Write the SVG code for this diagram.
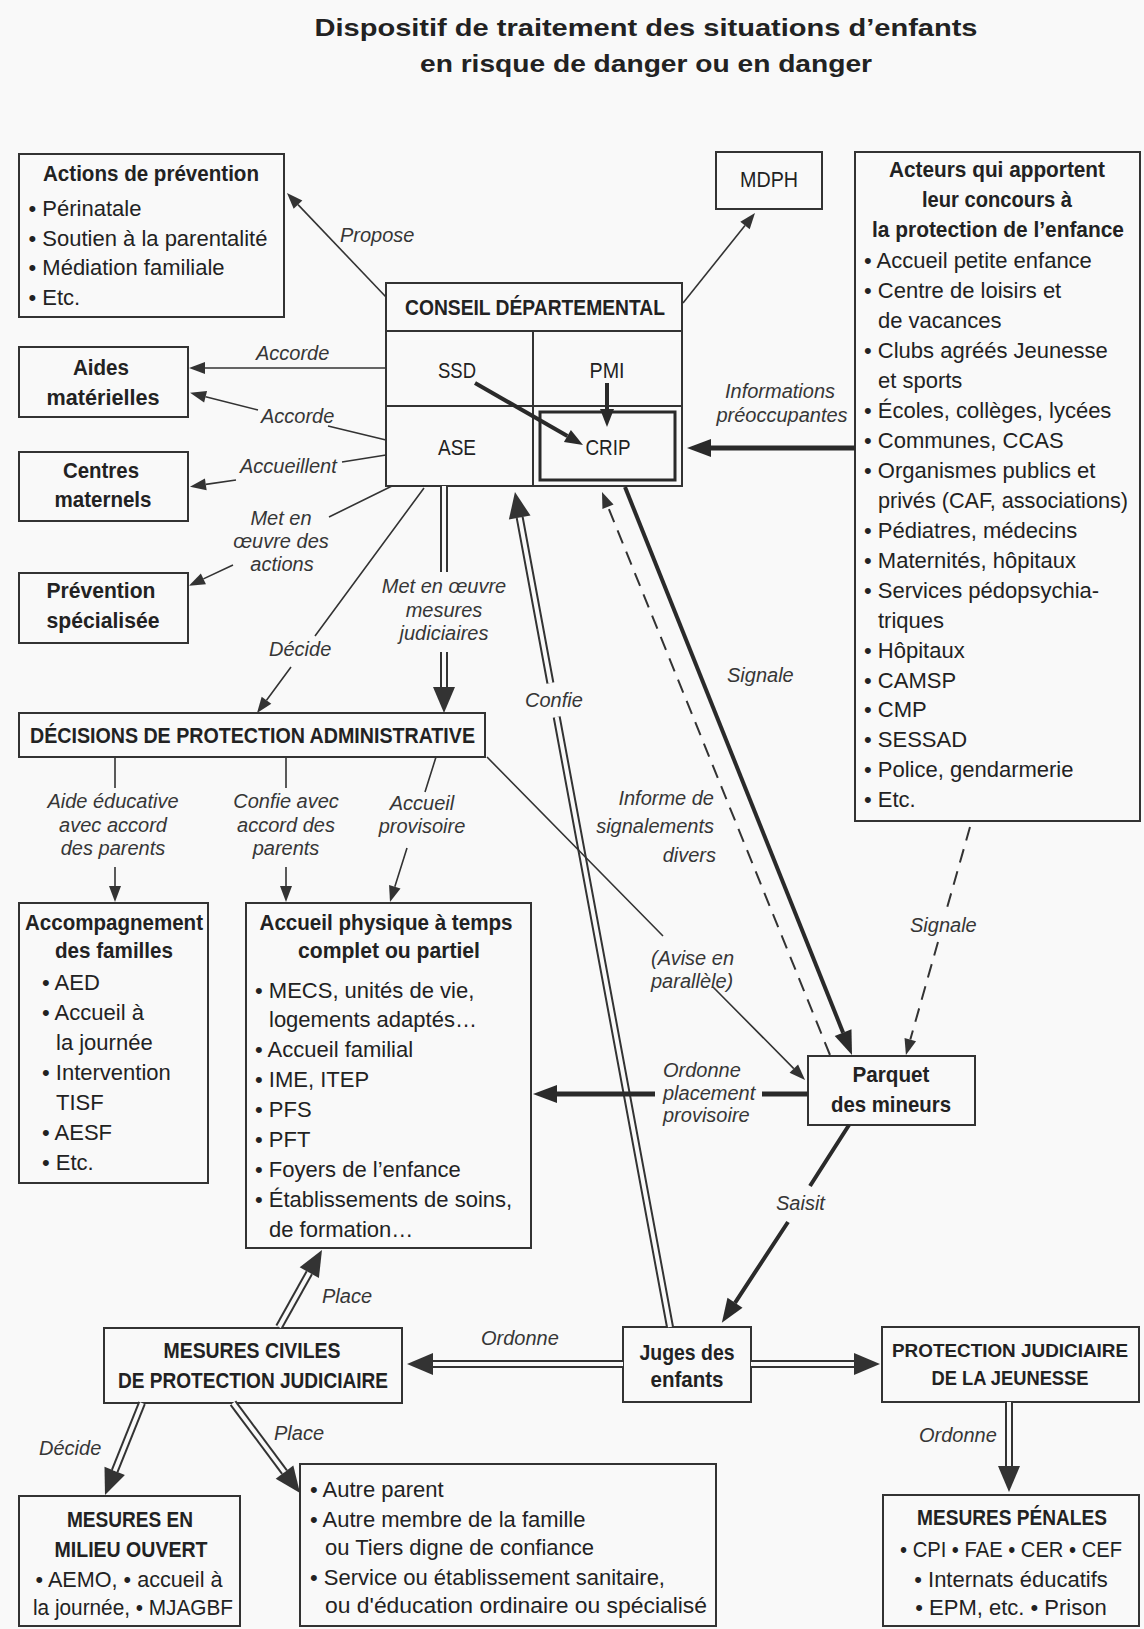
<svg xmlns="http://www.w3.org/2000/svg" width="1144" height="1629" viewBox="0 0 1144 1629">
<defs>
<style>
text{font-family:"Liberation Sans",Arial,sans-serif;fill:#222}
.r{font-size:22px}
.b{font-size:22px;font-weight:bold}
.h{font-size:24px;font-weight:bold}
.i{font-size:20px;font-style:italic;fill:#363636}
.m{text-anchor:middle}
.e{text-anchor:end}
.box{fill:#f9f9f9;stroke:#333;stroke-width:2}
.ln{fill:none;stroke:#333;stroke-width:1.6}
.dsh{fill:none;stroke:#333;stroke-width:2;stroke-dasharray:14 9}
.bd{fill:none;stroke:#2a2a2a;stroke-width:4}
.bd5{fill:none;stroke:#2a2a2a;stroke-width:5}
.dbo{fill:none;stroke:#333;stroke-width:8}
.dbi{fill:none;stroke:#f9f9f9;stroke-width:4}
</style>
<marker id="mt" markerUnits="userSpaceOnUse" markerWidth="18" markerHeight="14" refX="0" refY="7" orient="auto" overflow="visible"><path d="M0,1 L16,7 L0,13 z" fill="#333"/></marker>
<marker id="mm" markerUnits="userSpaceOnUse" markerWidth="20" markerHeight="16" refX="0" refY="7" orient="auto" overflow="visible"><path d="M0,0 L18,7 L0,14 z" fill="#2a2a2a"/></marker>
<marker id="mb" markerUnits="userSpaceOnUse" markerWidth="26" markerHeight="20" refX="0" refY="9" orient="auto" overflow="visible"><path d="M0,0 L24,9 L0,18 z" fill="#2a2a2a"/></marker>
<marker id="md" markerUnits="userSpaceOnUse" markerWidth="28" markerHeight="24" refX="0" refY="11" orient="auto" overflow="visible"><path d="M0,0 L26,11 L0,22 z" fill="#333"/></marker>
</defs>
<rect x="0" y="0" width="1144" height="1629" fill="#f9f9f9"/>

<g id="title">
<text class="h m" x="646" y="36" textLength="663" lengthAdjust="spacingAndGlyphs">Dispositif de traitement des situations d’enfants</text>
<text class="h m" x="646" y="72" textLength="452" lengthAdjust="spacingAndGlyphs">en risque de danger ou en danger</text>
</g>

<g id="actions-prevention">
<rect class="box" x="19" y="154" width="265" height="163"/>
<text class="b m" x="151" y="181" textLength="216" lengthAdjust="spacingAndGlyphs">Actions de prévention</text>
<text class="r" x="28.5" y="216">• Périnatale</text>
<text class="r" x="28.5" y="246">• Soutien à la parentalité</text>
<text class="r" x="28.5" y="275">• Médiation familiale</text>
<text class="r" x="28.5" y="305">• Etc.</text>
</g>

<g id="aides-materielles">
<rect class="box" x="19" y="347" width="169" height="70"/>
<text class="b m" x="101" y="375" textLength="56" lengthAdjust="spacingAndGlyphs">Aides</text>
<text class="b m" x="103" y="405" textLength="113" lengthAdjust="spacingAndGlyphs">matérielles</text>
</g>

<g id="centres-maternels">
<rect class="box" x="19" y="452" width="169" height="69"/>
<text class="b m" x="101" y="478" textLength="76" lengthAdjust="spacingAndGlyphs">Centres</text>
<text class="b m" x="103" y="507" textLength="97" lengthAdjust="spacingAndGlyphs">maternels</text>
</g>

<g id="prevention-specialisee">
<rect class="box" x="19" y="573" width="169" height="70"/>
<text class="b m" x="101" y="598" textLength="109" lengthAdjust="spacingAndGlyphs">Prévention</text>
<text class="b m" x="103" y="628" textLength="113" lengthAdjust="spacingAndGlyphs">spécialisée</text>
</g>

<g id="conseil-departemental">
<rect class="box" x="386" y="283" width="296" height="203"/>
<line class="ln" x1="386" y1="331" x2="682" y2="331" style="stroke-width:2"/>
<line class="ln" x1="533" y1="331" x2="533" y2="486" style="stroke-width:2"/>
<line class="ln" x1="386" y1="406" x2="682" y2="406" style="stroke-width:2"/>
<text class="b m" x="535" y="315" textLength="260" lengthAdjust="spacingAndGlyphs">CONSEIL DÉPARTEMENTAL</text>
<text class="r m" x="457" y="378" textLength="38" lengthAdjust="spacingAndGlyphs">SSD</text>
<text class="r m" x="607" y="378" textLength="35" lengthAdjust="spacingAndGlyphs">PMI</text>
<text class="r m" x="457" y="455" textLength="38" lengthAdjust="spacingAndGlyphs">ASE</text>
</g>

<g id="crip">
<rect x="540" y="412" width="135" height="68" fill="none" stroke="#2a2a2a" stroke-width="3"/>
<text class="r m" x="608" y="455" textLength="45" lengthAdjust="spacingAndGlyphs">CRIP</text>
</g>

<g id="mdph">
<rect class="box" x="716" y="152" width="106" height="57"/>
<text class="r m" x="769" y="187" textLength="58" lengthAdjust="spacingAndGlyphs">MDPH</text>
</g>

<g id="acteurs">
<rect class="box" x="855" y="152" width="285" height="669"/>
<text class="b m" x="997" y="177" textLength="216" lengthAdjust="spacingAndGlyphs">Acteurs qui apportent</text>
<text class="b m" x="997" y="207" textLength="150" lengthAdjust="spacingAndGlyphs">leur concours à</text>
<text class="b m" x="998" y="237" textLength="252" lengthAdjust="spacingAndGlyphs">la protection de l’enfance</text>
<text class="r" x="864" y="268">• Accueil petite enfance</text>
<text class="r" x="864" y="298">• Centre de loisirs et</text>
<text class="r" x="878" y="328">de vacances</text>
<text class="r" x="864" y="358">• Clubs agréés Jeunesse</text>
<text class="r" x="878" y="388">et sports</text>
<text class="r" x="864" y="418">• Écoles, collèges, lycées</text>
<text class="r" x="864" y="448">• Communes, CCAS</text>
<text class="r" x="864" y="478">• Organismes publics et</text>
<text class="r" x="878" y="508" textLength="250" lengthAdjust="spacingAndGlyphs">privés (CAF, associations)</text>
<text class="r" x="864" y="538">• Pédiatres, médecins</text>
<text class="r" x="864" y="568">• Maternités, hôpitaux</text>
<text class="r" x="864" y="598">• Services pédopsychia-</text>
<text class="r" x="878" y="628">triques</text>
<text class="r" x="864" y="658">• Hôpitaux</text>
<text class="r" x="864" y="688">• CAMSP</text>
<text class="r" x="864" y="717">• CMP</text>
<text class="r" x="864" y="747">• SESSAD</text>
<text class="r" x="864" y="777">• Police, gendarmerie</text>
<text class="r" x="864" y="807">• Etc.</text>
</g>

<g id="decisions-administratives">
<rect class="box" x="19" y="713" width="466" height="44"/>
<text class="b" x="30" y="743" textLength="445" lengthAdjust="spacingAndGlyphs">DÉCISIONS DE PROTECTION ADMINISTRATIVE</text>
</g>

<g id="accompagnement">
<rect class="box" x="19" y="903" width="189" height="280"/>
<text class="b m" x="114" y="930" textLength="178" lengthAdjust="spacingAndGlyphs">Accompagnement</text>
<text class="b m" x="114" y="958" textLength="118" lengthAdjust="spacingAndGlyphs">des familles</text>
<text class="r" x="42" y="990">• AED</text>
<text class="r" x="42" y="1020">• Accueil à</text>
<text class="r" x="56" y="1050">la journée</text>
<text class="r" x="42" y="1080">• Intervention</text>
<text class="r" x="56" y="1110">TISF</text>
<text class="r" x="42" y="1140">• AESF</text>
<text class="r" x="42" y="1170">• Etc.</text>
</g>

<g id="accueil-physique">
<rect class="box" x="246" y="903" width="285" height="345"/>
<text class="b m" x="386" y="930" textLength="253" lengthAdjust="spacingAndGlyphs">Accueil physique à temps</text>
<text class="b m" x="389" y="958" textLength="182" lengthAdjust="spacingAndGlyphs">complet ou partiel</text>
<text class="r" x="255" y="998">• MECS, unités de vie,</text>
<text class="r" x="269" y="1027">logements adaptés…</text>
<text class="r" x="255" y="1057">• Accueil familial</text>
<text class="r" x="255" y="1087">• IME, ITEP</text>
<text class="r" x="255" y="1117">• PFS</text>
<text class="r" x="255" y="1147">• PFT</text>
<text class="r" x="255" y="1177">• Foyers de l’enfance</text>
<text class="r" x="255" y="1207">• Établissements de soins,</text>
<text class="r" x="269" y="1237">de formation…</text>
</g>

<g id="parquet">
<rect class="box" x="808" y="1056" width="167" height="69"/>
<text class="b m" x="891" y="1082" textLength="77" lengthAdjust="spacingAndGlyphs">Parquet</text>
<text class="b m" x="891" y="1112" textLength="120" lengthAdjust="spacingAndGlyphs">des mineurs</text>
</g>

<g id="mesures-civiles">
<rect class="box" x="104" y="1328" width="298" height="75"/>
<text class="b m" x="252" y="1358" textLength="177" lengthAdjust="spacingAndGlyphs">MESURES CIVILES</text>
<text class="b m" x="253" y="1388" textLength="270" lengthAdjust="spacingAndGlyphs">DE PROTECTION JUDICIAIRE</text>
</g>

<g id="juges">
<rect class="box" x="623" y="1327" width="128" height="75"/>
<text class="b m" x="687" y="1360" textLength="95" lengthAdjust="spacingAndGlyphs">Juges des</text>
<text class="b m" x="687" y="1387" textLength="73" lengthAdjust="spacingAndGlyphs">enfants</text>
</g>

<g id="pjj">
<rect class="box" x="882" y="1327" width="257" height="75"/>
<text class="b m" x="1010" y="1357" style="font-size:19px" textLength="236" lengthAdjust="spacingAndGlyphs">PROTECTION JUDICIAIRE</text>
<text class="b m" x="1010" y="1385" style="font-size:20px" textLength="157" lengthAdjust="spacingAndGlyphs">DE LA JEUNESSE</text>
</g>

<g id="milieu-ouvert">
<rect class="box" x="19" y="1496" width="221" height="130"/>
<text class="b m" x="130" y="1527" textLength="126" lengthAdjust="spacingAndGlyphs">MESURES EN</text>
<text class="b m" x="131" y="1557" textLength="153" lengthAdjust="spacingAndGlyphs">MILIEU OUVERT</text>
<text class="r m" x="129" y="1587" textLength="187" lengthAdjust="spacingAndGlyphs">• AEMO, • accueil à</text>
<text class="r m" x="133" y="1615" textLength="200" lengthAdjust="spacingAndGlyphs">la journée, • MJAGBF</text>
</g>

<g id="autres-placements">
<rect class="box" x="300" y="1464" width="416" height="162"/>
<text class="r" x="310" y="1497">• Autre parent</text>
<text class="r" x="310" y="1527">• Autre membre de la famille</text>
<text class="r" x="325" y="1555">ou Tiers digne de confiance</text>
<text class="r" x="310" y="1585">• Service ou établissement sanitaire,</text>
<text class="r" x="325" y="1613" textLength="382" lengthAdjust="spacingAndGlyphs">ou d'éducation ordinaire ou spécialisé</text>
</g>

<g id="mesures-penales">
<rect class="box" x="883" y="1495" width="256" height="131"/>
<text class="b m" x="1012" y="1525" textLength="190" lengthAdjust="spacingAndGlyphs">MESURES PÉNALES</text>
<text class="r m" x="1011" y="1557" textLength="222" lengthAdjust="spacingAndGlyphs">• CPI • FAE • CER • CEF</text>
<text class="r m" x="1011" y="1587">• Internats éducatifs</text>
<text class="r m" x="1011" y="1615">• EPM, etc. • Prison</text>
</g>

<g id="connectors">
<path class="dbo" d="M444,486 L444,572 M444,652 L444,687" marker-end="url(#md)"/>
<path class="dbi" d="M444,486 L444,572 M444,652 L444,687"/>
<path class="dbo" d="M670,1327 L556.7,717 M550.4,683 L519.7,517.6" marker-end="url(#md)"/>
<path class="dbi" d="M670,1327 L556.7,717 M550.4,683 L519.7,517.6"/>
<path class="dbo" d="M279,1327 L309.3,1272.7" marker-end="url(#md)"/>
<path class="dbi" d="M279,1327 L309.3,1272.7"/>
<path class="dbo" d="M623,1364 L433,1364" marker-end="url(#md)"/>
<path class="dbi" d="M623,1364 L433,1364"/>
<path class="dbo" d="M751,1364 L854,1364" marker-end="url(#md)"/>
<path class="dbi" d="M751,1364 L854,1364"/>
<path class="dbo" d="M1009,1402 L1009,1466" marker-end="url(#md)"/>
<path class="dbi" d="M1009,1402 L1009,1466"/>
<path class="dbo" d="M142,1403 L114.7,1470.9" marker-end="url(#md)"/>
<path class="dbi" d="M142,1403 L114.7,1470.9"/>
<path class="dbo" d="M233,1403 L284.5,1472.1" marker-end="url(#md)"/>
<path class="dbi" d="M233,1403 L284.5,1472.1"/>
<path class="ln" d="M386,297 L298,204.6" marker-end="url(#mt)"/>
<path class="ln" d="M386,368 L205,368" marker-end="url(#mt)"/>
<path class="ln" d="M386,440 L328,426 M258,410 L205.6,396.7" marker-end="url(#mt)"/>
<path class="ln" d="M386,455 L342,462 M236,480 L205.8,484.4" marker-end="url(#mt)"/>
<path class="ln" d="M392,486 L329,517 M233,565 L203.4,578.9" marker-end="url(#mt)"/>
<path class="ln" d="M424,488 L315,636 M291,667 L266.5,700.2" marker-end="url(#mt)"/>
<path class="ln" d="M487,757 L663,936 M713,987 L793.8,1068.6" marker-end="url(#mt)"/>
<path class="ln" d="M683,303 L745,225.5" marker-end="url(#mt)"/>
<path class="ln" d="M115,757 L115,788 M115,867 L115,886" marker-end="url(#mt)"/>
<path class="ln" d="M286,757 L286,788 M286,867 L286,886" marker-end="url(#mt)"/>
<path class="ln" d="M436,757 L425,792 M407,848 L394.8,886.7" marker-end="url(#mt)"/>
<path class="dsh" d="M830,1055 L608,506.8" marker-end="url(#mt)"/>
<path class="dsh" d="M970,827 L945,915 M938,942 L910.3,1039.6" marker-end="url(#mt)"/>
<path class="bd" d="M625,487 L843.1,1032.7" marker-end="url(#mb)"/>
<path class="bd5" d="M808,1094 L762,1094 M655,1094 L557,1094" marker-end="url(#mb)"/>
<path class="bd" d="M849,1125 L810,1186 M788,1222 L735,1302.8" marker-end="url(#mb)"/>
<path class="bd5" d="M855,448 L711,448" marker-end="url(#mb)"/>
<path class="bd" d="M475,383 L567.4,436" marker-end="url(#mm)"/>
<path class="bd" d="M607,383 L607,409" marker-end="url(#mm)"/>
</g>

<g id="labels">
<text class="i" x="340" y="242">Propose</text>
<text class="i" x="256" y="360">Accorde</text>
<text class="i" x="261" y="423">Accorde</text>
<text class="i" x="240" y="473">Accueillent</text>
<text class="i m" x="281" y="525">Met en</text>
<text class="i m" x="281" y="548">œuvre des</text>
<text class="i m" x="282" y="571">actions</text>
<text class="i" x="269" y="656">Décide</text>
<text class="i m" x="444" y="593">Met en œuvre</text>
<text class="i m" x="444" y="617">mesures</text>
<text class="i m" x="444" y="640">judiciaires</text>
<text class="i" x="525" y="707">Confie</text>
<text class="i" x="727" y="682">Signale</text>
<text class="i m" x="780" y="398">Informations</text>
<text class="i m" x="782" y="422">préoccupantes</text>
<text class="i e" x="714" y="805">Informe de</text>
<text class="i e" x="714" y="833">signalements</text>
<text class="i e" x="716" y="862">divers</text>
<text class="i m" x="113" y="808">Aide éducative</text>
<text class="i m" x="113" y="832">avec accord</text>
<text class="i m" x="113" y="855">des parents</text>
<text class="i m" x="286" y="808">Confie avec</text>
<text class="i m" x="286" y="832">accord des</text>
<text class="i m" x="286" y="855">parents</text>
<text class="i m" x="422" y="810">Accueil</text>
<text class="i m" x="422" y="833">provisoire</text>
<text class="i" x="651" y="965">(Avise en</text>
<text class="i" x="651" y="988">parallèle)</text>
<text class="i" x="910" y="932">Signale</text>
<text class="i" x="663" y="1077">Ordonne</text>
<text class="i" x="663" y="1100">placement</text>
<text class="i" x="663" y="1122">provisoire</text>
<text class="i" x="776" y="1210">Saisit</text>
<text class="i" x="322" y="1303">Place</text>
<text class="i" x="481" y="1345">Ordonne</text>
<text class="i" x="39" y="1455">Décide</text>
<text class="i" x="274" y="1440">Place</text>
<text class="i" x="919" y="1442">Ordonne</text>
</g>
</svg>
